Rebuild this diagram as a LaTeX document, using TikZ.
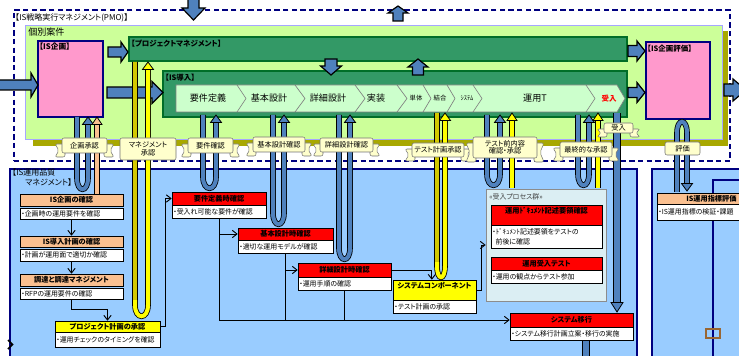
\documentclass[tikz,border=0pt]{standalone}
\usepackage{fontspec}
\setmainfont{Noto Sans CJK JP}[RawFeature=+palt]
\usetikzlibrary{arrows.meta,fit,shadows}
\newcommand\fs[1]{\fontsize{#1}{#1}\selectfont}
\definecolor{lgreen}{RGB}{204,255,153}
\definecolor{olivey}{RGB}{168,168,0}
\definecolor{dgreen}{RGB}{51,153,102}
\definecolor{dgreenb}{RGB}{0,110,40}
\definecolor{chev}{RGB}{204,255,204}
\definecolor{pinkb}{RGB}{255,153,204}
\definecolor{navy}{RGB}{0,0,128}
\definecolor{barrow}{RGB}{79,129,189}
\definecolor{lblue}{RGB}{153,204,255}
\definecolor{peach}{RGB}{250,192,144}
\definecolor{ribbon}{RGB}{255,255,204}
\definecolor{grpfill}{RGB}{219,238,243}
\definecolor{yelA}{RGB}{255,255,0}
\definecolor{yelB}{RGB}{210,200,0}
\definecolor{brownq}{RGB}{153,102,51}
% horizontal block arrow: x tail, x tip, y centre, shaft half, head half, head length
\newcommand\harrow[6]{\draw[barr] (#1,#3-#4) -- (#2-#6,#3-#4) -- (#2-#6,#3-#5) -- (#2,#3) -- (#2-#6,#3+#5) -- (#2-#6,#3+#4) -- (#1,#3+#4) -- cycle;}
\newcommand\darrow[6]{\draw[barr] (#1-#4,#2) -- (#1-#4,#3-#6) -- (#1-#5,#3-#6) -- (#1,#3) -- (#1+#5,#3-#6) -- (#1+#4,#3-#6) -- (#1+#4,#2) -- cycle;}
\newcommand\uarrow[6]{\draw[barr] (#1-#4,#2) -- (#1-#4,#3+#6) -- (#1-#5,#3+#6) -- (#1,#3) -- (#1+#5,#3+#6) -- (#1+#4,#3+#6) -- (#1+#4,#2) -- cycle;}
% hairpin: colour, x left (down), x right (up), y top, y bottom
\newcommand\hairpin[5]{%
  \draw[stripline,double=#1] (#2,#4) -- (#2,#5-14) .. controls (#2,#5+1) and (#3,#5+1) .. (#3,#5-14) -- (#3,#4+7);
  \draw[line width=0.6pt,fill=#1,line join=miter] (#3-5.5,#4+7.5) -- (#3,#4) -- (#3+5.5,#4+7.5) -- cycle;}
\newcommand\upstrip[4]{%
  \draw[stripline,double=#1] (#2,#3) -- (#2,#4+7);
  \draw[line width=0.6pt,fill=#1,line join=miter] (#2-5,#4+7.5) -- (#2,#4) -- (#2+5,#4+7.5) -- cycle;}
% ribbon banner: name, L, T, R, B, text
\newcommand\ribbon[6]{%
  \draw[rib] (#2+3,#3+6) -- (#2-7,#3+6) -- (#2-3,{(#3+#5)/2+5}) -- (#2-7,#5+4) -- (#2+3,#5+4) -- cycle;
  \draw[rib] (#4-3,#3+6) -- (#4+7,#3+6) -- (#4+3,{(#3+#5)/2+5}) -- (#4+7,#5+4) -- (#4-3,#5+4) -- cycle;
  \node[fit={(#2,#3) (#4,#5)},inner sep=0pt,rib] (#1) {};
  \node[ribtxt] at (#1.center) {#6};}
\newcommand\hb[6]{\node[fit={(#2,#3) (#4,#5)},inner sep=0pt,draw=black,line width=0.4pt,#6] (#1) {};}
\begin{document}
\begin{tikzpicture}[x=0.75pt,y=-0.75pt,
  barr/.style={fill=barrow,draw=black,line width=0.9pt,line join=miter},
  stripline/.style={line width=0.6pt,double distance=3pt},
  hdrtxt/.style={font=\bfseries\fs{5.4},inner sep=0pt},
  bodytxt/.style={font=\fs{5.2},inner sep=0pt,anchor=west},
  conn/.style={line width=0.7pt,-{Straight Barb[length=3.5pt,width=5.5pt]}},
  plainline/.style={line width=0.7pt},
  rib/.style={fill=ribbon,draw=black!55,line width=0.4pt,rounded corners=1.5pt},
  ribtxt/.style={font=\fs{5.4},inner sep=0pt,align=center},
  lbl/.style={inner sep=0pt,anchor=north west},
  chevtxt/.style={font=\fs{6.8},inner sep=0pt},
  smalltxt/.style={font=\fs{4.8},inner sep=0pt},
  shd/.style={drop shadow={shadow xshift=0.8pt,shadow yshift=-0.8pt,fill=black!60,opacity=0.8}},
  pinkbox/.style={inner sep=0pt,fill=pinkb,draw=navy,line width=0.8pt},
  greenbox/.style={inner sep=0pt,fill=dgreen,draw=dgreenb,line width=0.8pt},
  bluebox/.style={inner sep=0pt,fill=lblue,draw=navy,line width=0.8pt}]
\useasboundingbox (0,0) rectangle (739,356);
\clip (0,0) rectangle (739,356);
\fill[white] (0,0) rectangle (739,356);

% ===== PMO frame =====
\node[fit={(14,10) (730,161)},inner sep=0pt,draw=navy,line width=0.9pt,dash pattern=on 4pt off 2.5pt] (pmo) {};
\node[lbl,font=\fs{6}] (pmot) at (15,13) {【IS戦略実行マネジメント(PMO)】};
\darrow{193.5}{-2}{20}{5.5}{11.5}{12}
\uarrow{398}{21}{6}{5}{10}{7}

% ===== individual projects =====
\fill[olivey] (33,31) rectangle (728,146);
\node[fit={(25,25) (722,139)},inner sep=0pt,fill=lgreen,draw=blue!35,line width=0.5pt] (kobetsu) {};
\node[lbl,font=\fs{6.8}] (kobetsut) at (28,28) {個別案件};

\node[fit={(38,41) (103,117)},pinkbox] (kikaku) {};
\node[lbl,font=\bfseries\fs{5.8}] (kikakut) at (39,43) {【IS企画】};
\node[fit={(646,42) (710,119)},pinkbox] (hyoka) {};
\node[lbl,font=\bfseries\fs{5.6}] (hyokat) at (647,45) {【IS企画評価】};

\node[fit={(129,37) (627,61)},greenbox] (pm) {};
\node[lbl,font=\bfseries\fs{5.6}] (pmt) at (131,40) {【プロジェクトマネジメント】};
\node[fit={(163,71) (627,117)},greenbox] (donyu) {};
\node[lbl,font=\bfseries\fs{5.6}] (donyut) at (165,74) {【IS導入】};

\draw[fill=chev,draw=black!50,line width=0.5pt] (176,85) -- (617,85) -- (625,98.5) -- (617,112) -- (176,112) -- cycle;
\foreach \t/\p in {237/246,295/305,355/365,397/407,423/431,447/455,473/482,586/595}
  \draw[black!50,line width=0.5pt] (\t,85) -- (\p,98.5) -- (\t,112);
\node[chevtxt] (c1) at (208,98.5) {要件定義};
\node[chevtxt] (c2) at (269,98.5) {基本設計};
\node[chevtxt] (c3) at (328,98.5) {詳細設計};
\node[chevtxt] (c4) at (376,98.5) {実装};
\node[smalltxt] (c5) at (416,98.5) {単体};
\node[smalltxt] (c6) at (440,98.5) {結合};
\node[smalltxt] (c7) at (467,98.5) {ｼｽﾃﾑ};
\node[chevtxt] (c8) at (535,98.5) {運用T};
\node[font=\bfseries\fs{5.6},text=red,inner sep=0pt] (c9) at (609,98.5) {受入};

% block arrows
\harrow{-3}{38}{85}{5}{12}{7}
\harrow{108}{128}{52}{5}{10}{7}
\harrow{107}{163}{92.5}{5.5}{11}{11}
\harrow{628}{645}{51}{5.5}{10}{8}
\harrow{628}{645}{92.5}{5}{10}{8}
\harrow{724}{746}{90}{6}{11}{13}
\darrow{331}{59}{75}{6}{10.5}{9}
\uarrow{418}{75}{59}{5.5}{10}{8}

% ===== IS operation quality management =====
\node[fit={(10,169) (637,360)},bluebox] (opq) {};
\node[lbl,font=\fs{6}] (opqt1) at (12,168.5) {【IS運用品質};
\node[lbl,font=\fs{6}] (opqt2) at (25,178) {マネジメント】};
\node[fit={(652,169) (745,360)},bluebox] (opr) {};
\node[fit={(713,180) (745,360)},bluebox] (opr2) {};
\hb{rh}{657}{193}{745}{204}{fill=peach}
\node[hdrtxt,anchor=west] (rht) at (686,198.5) {IS運用指標評価};
\hb{rb}{657}{204}{745}{220}{fill=white}
\node[bodytxt] (rbt) at ([xshift=1pt]rb.west) {・IS運用指標の検証・課題};
\draw[brownq,line width=1.1pt] (706,329) rectangle (720,338);
\draw[line width=1.2pt] (8,340) -- (12.5,344.5) -- (8,349);

% left column
\hb{h1}{20}{194}{123}{206}{fill=peach,shd}
\node[hdrtxt] at (h1.center) {IS企画の確認};
\hb{b1}{20}{208}{123}{219}{fill=white,shd}
\node[bodytxt] at ([xshift=1pt]b1.west) {・企画時の運用要件を確認};
\hb{h2}{20}{236}{123}{247}{fill=peach,shd}
\node[hdrtxt] at (h2.center) {IS導入計画の確認};
\hb{b2}{20}{249}{123}{261}{fill=white,shd}
\node[bodytxt] at ([xshift=1pt]b2.west) {・計画が運用面で適切か確認};
\hb{h3}{20}{274}{123}{286}{fill=peach,shd}
\node[hdrtxt] at (h3.center) {調達と調達マネジメント};
\hb{b3}{20}{288}{123}{299}{fill=white,shd}
\node[bodytxt] at ([xshift=1pt]b3.west) {・RFPの運用要件の確認};
\hb{h4}{55}{321}{160}{332}{fill=yelA,shd}
\node[hdrtxt] at (h4.center) {プロジェクト計画の承認};
\hb{b4}{55}{332}{160}{347}{fill=white,shd}
\node[bodytxt] at ([xshift=1pt]b4.west) {・運用チェックのタイミングを確認};

% red boxes
\hb{r1h}{172}{192}{266}{205}{fill=red,shd}
\node[hdrtxt] at (r1h.center) {要件定義時確認};
\hb{r1b}{172}{205}{266}{218}{fill=white,shd}
\node[bodytxt] at ([xshift=1pt]r1b.west) {・受入れ可能な要件が確認};
\hb{r2h}{238}{228}{333}{240}{fill=red,shd}
\node[hdrtxt] at (r2h.center) {基本設計時確認};
\hb{r2b}{238}{240}{333}{253}{fill=white,shd}
\node[bodytxt] at ([xshift=1pt]r2b.west) {・適切な運用モデルが確認};
\hb{r3h}{298}{263}{391}{277}{fill=red,shd}
\node[hdrtxt] at (r3h.center) {詳細設計時確認};
\hb{r3b}{298}{277}{391}{290}{fill=white,shd}
\node[bodytxt] at ([xshift=1pt]r3b.west) {・運用手順の確認};
\hb{y2h}{393}{280}{476}{300}{fill=yelA,shd}
\node[hdrtxt] at ([yshift=-4.5pt]y2h.north) {システムコンポーネント};
\hb{y2b}{393}{300}{476}{313}{fill=white,shd}
\node[bodytxt] at ([xshift=1pt]y2b.west) {・テスト計画の承認};

\node[fit={(486,189) (606,301)},inner sep=0pt,draw=black!45,fill=grpfill,line width=0.5pt,shd] (grp) {};
\node[lbl,font=\fs{5.2},text=black!75] (grpt) at (489,193) {<<受入プロセス群>>};
\hb{r4h}{491}{205}{602}{225}{fill=red,shd}
\node[hdrtxt] at ([yshift=-4.5pt]r4h.north) {運用ﾄﾞｷｭﾒﾝﾄ記述要領確認};
\hb{r4b}{491}{225}{602}{248}{fill=white,shd}
\node[bodytxt,anchor=north west] at ([xshift=1pt,yshift=-3pt]r4b.north west) {・ﾄﾞｷｭﾒﾝﾄ記述要領をテストの};
\node[bodytxt,anchor=north west] at ([xshift=3.5pt,yshift=-10pt]r4b.north west) {前後に確認};
\hb{r5h}{491}{257}{602}{270}{fill=red,shd}
\node[hdrtxt] at (r5h.center) {運用受入テスト};
\hb{r5b}{491}{270}{602}{283}{fill=white,shd}
\node[bodytxt] at ([xshift=1pt]r5b.west) {・運用の観点からテスト参加};
\hb{r6h}{510}{313}{633}{327}{fill=red,shd}
\node[hdrtxt] at (r6h.center) {システム移行};
\hb{r6b}{510}{327}{633}{340}{fill=white,shd}
\node[bodytxt] at ([xshift=1pt]r6b.west) {・システム移行計画立案・移行の実施};

% connectors
\draw[conn] (b1.south) -- (h2.north);
\draw[conn] (b2.south) -- (h3.north);
\draw[conn] (b3.south) -- ++(0,10) -| (h4.north);
\draw[conn] (h4.east) -- ++(5,0) |- (r1h.west);
\draw[conn] (r1b.south) |- (r6h.west);
\draw[conn] (r1b.south |- r2h.west) -- (r2h.west);
\draw[plainline] (r2b.south) -- (r2b.south |- r6h.west);
\draw[conn] (r2b.south |- r3h.west) -- (r3h.west);
\draw[plainline] (r3b.south) -- (r3b.south |- r6h.west);
\draw[conn] (r3h.east) -| ([xshift=-2pt]y2h.north);
\draw[conn] (y2h.east) -- ++(5,0) |- (grp.west);

% ===== vertical strips =====
\hairpin{barrow}{77}{88}{117}{192}
\upstrip{peach}{97}{194}{117}
\hairpin{yelA}{135}{148}{62}{319}
\draw[stripline,double=yelB] (135,62) -- (135,300);
\hairpin{barrow}{203}{216}{115}{191}
\hairpin{barrow}{273}{284}{115}{227}
\hairpin{barrow}{339}{350}{115}{262}
\hairpin{yelA}{437}{445}{113}{280}
\draw[stripline,double=yelB] (437,113) -- (437,262);
\hairpin{barrow}{487}{500}{115}{188}
\upstrip{yelA}{512}{188}{113}
\hairpin{barrow}{578}{589}{115}{188}
\upstrip{yelA}{598}{188}{113}
\draw[line width=0.6pt,double=barrow,double distance=5pt] (617,113) -- (617,303);
\draw[line width=0.6pt,fill=barrow,line join=miter] (611,302.5) -- (617,312) -- (623,302.5) -- cycle;
\draw[stripline,double=barrow] (677,192) -- (677,133) .. controls (677,118) and (687,118) .. (687,133) -- (687,184);
\draw[line width=0.6pt,fill=barrow,line join=miter] (681.5,183.5) -- (687,191) -- (692.5,183.5) -- cycle;
\draw[line width=0.6pt,double=barrow,double distance=5pt] (586,341) -- (586,362);

% ===== banners =====
\ribbon{bn1}{62}{138}{107}{153}{企画承認}
\node[fit={(120,138) (176,160)},inner sep=0pt,rib] (bn2) {};
\node[ribtxt] at (bn2.center) {マネジメント\\承認};
\ribbon{bn3}{188}{138}{233}{153}{要件確認}
\ribbon{bn4}{253}{137}{305}{152}{基本設計確認}
\ribbon{bn5}{320}{138}{373}{152}{詳細設計確認}
\ribbon{bn6}{412}{143}{464}{157}{テスト計画承認}
\ribbon{bn7}{473}{137}{537}{158}{テスト前内容\\確認・承認}
\ribbon{bn8}{560}{142}{612}{157}{最終的な承認}
\ribbon{bn9}{604}{123}{633}{133}{受入}
\node[fit={(665,142) (700,155)},inner sep=0pt,rib] (bn10) {};
\node[ribtxt] at (bn10.center) {評価};
\end{tikzpicture}
\end{document}
